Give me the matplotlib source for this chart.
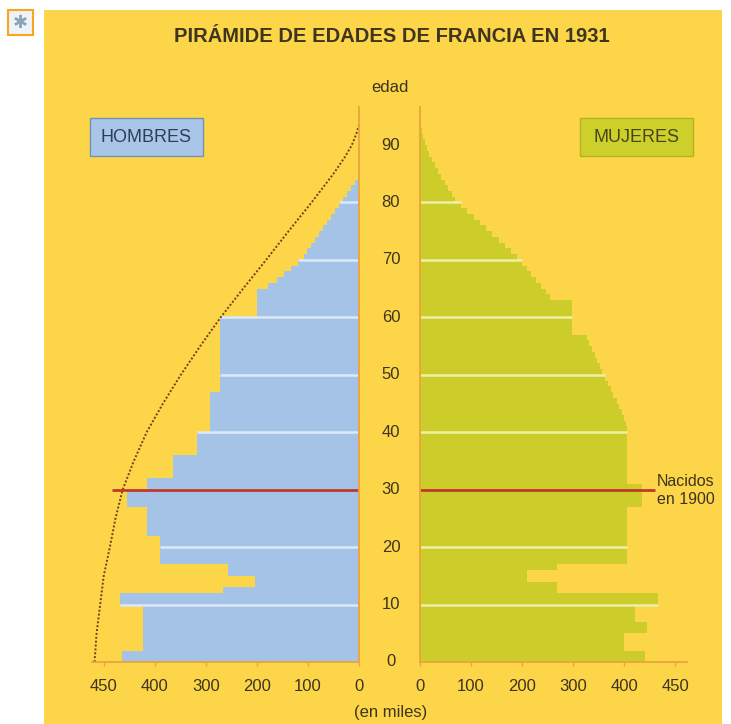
import numpy as np
import matplotlib
matplotlib.use("Agg")
import matplotlib.pyplot as plt
import matplotlib.transforms as mtransforms
from matplotlib.patches import Rectangle

plt.rcParams['font.family'] = ['Liberation Sans', 'DejaVu Sans']

# poblacion por edad (miles), un valor por año de edad
edades_h = np.arange(0, 85)
hombres = ([465, 465] + [424] * 8 + [469, 469] + [267] + [204, 204] + [257, 257]
           + [390] * 5 + [416] * 5 + [455] * 3 + [416] * 2 + [365] * 4 + [318] * 4
           + [292] * 7 + [272] * 13 + [200] * 5
           + [178, 161, 147, 133, 120, 108, 102, 94, 86, 78,
              71, 63, 55, 47, 39, 31, 24, 16, 8, 2])

edades_m = np.arange(0, 94)
mujeres = ([441, 441] + [400] * 3 + [445, 445] + [422] * 3 + [467, 467]
           + [269, 269] + [210, 210] + [269] + [406] * 10 + [435] * 4 + [406] * 10
           + [404, 400, 396, 390, 385, 379, 374, 368, 362, 357, 352, 347, 342, 337, 332, 327]
           + [298] * 6
           + [255, 246, 237, 227, 218, 209, 199, 190, 178, 166, 154, 142, 130, 118, 106,
              93, 81, 69, 62, 55, 48, 41, 35, 29, 24, 18, 13, 9, 6, 4, 2])

# curva punteada (hombres)
curva_edad = [0, 5, 10, 15, 20, 25, 30, 35, 40, 45, 50, 55, 60, 65, 70, 75, 80, 85,
              88, 90, 92, 93.5]
curva_val = [518, 514, 507, 500, 488, 477, 463, 441, 416, 384, 349, 311, 271, 227,
             182, 138, 93, 50, 27, 14, 5, 0]

x_ticks = [0, 100, 200, 300, 400, 500]
x_labels = ['0', '100', '200', '300', '400', '450']
edades_lbl = list(range(0, 100, 10))
separadores = [10, 20, 40, 50, 60, 70, 80]
edad_1900 = 30
linea_1900_h = 484
linea_1900_m = 461

YELLOW = '#fdd548'
BLUE = '#a4c3e6'
GREEN = '#cccd2a'
ORANGE = '#eba33c'
RED = '#c0392b'
TXT = '#3d3520'

W, H = 731, 724
fig = plt.figure(figsize=(W / 100, H / 100), dpi=100)
fig.patch.set_facecolor('white')


def fx(px):
    return px / W


def fy(py):
    return 1 - py / H


fig.patches.append(Rectangle((fx(44), 0), fx(722) - fx(44), fy(10), transform=fig.transFigure,
                             facecolor=YELLOW, edgecolor='none', zorder=-5))
fig.patches.append(Rectangle((fx(8), fy(35)), fx(25), 25 / H, transform=fig.transFigure,
                             facecolor='#eef3f7', edgecolor='#f6a623', lw=1.5, zorder=-4))
fig.text(fx(20.5), fy(23), '✱', ha='center', va='center', fontsize=13,
         color='#8aa3b8', family=['DejaVu Sans'])

bottom, top = 662, 107
axL = fig.add_axes([fx(92), fy(bottom), fx(267), (bottom - top) / H])
axR = fig.add_axes([fx(420), fy(bottom), fx(267), (bottom - top) / H])
ymax = (bottom - top) / 5.744

for ax in (axL, axR):
    ax.set_zorder(1)
    ax.set_facecolor('none')
    ax.set_ylim(0, ymax)
    ax.set_yticks([])
    ax.set_xticks(x_ticks)
    ax.set_xticklabels(x_labels)
    ax.tick_params(axis='x', length=3, width=1, color=ORANGE, pad=9,
                   labelsize=12, labelcolor=TXT)
    ax.spines['top'].set_visible(False)
    for s in ax.spines.values():
        s.set_color(ORANGE)
        s.set_linewidth(1.3)

axL.set_xlim(523, 0)
axR.set_xlim(0, 523)
axL.spines['left'].set_visible(False)
axR.spines['right'].set_visible(False)

axL.barh(edades_h, hombres, height=1, align='edge', color=BLUE, linewidth=0)
axR.barh(edades_m, mujeres, height=1, align='edge', color=GREEN, linewidth=0)

for a in separadores:
    axL.plot([0, max(hombres[a - 1], hombres[a])], [a, a], color='#dde9f7', lw=1.8,
             solid_capstyle='butt')
    axR.plot([0, max(mujeres[a - 1], mujeres[a])], [a, a], color='#eef0a6', lw=1.8,
             solid_capstyle='butt')

axL.plot(curva_val, curva_edad, color='#7a3b1e', lw=1.4, ls=(0, (1, 1)))

axL.plot([0, linea_1900_h], [edad_1900, edad_1900], color=RED, lw=2, solid_capstyle='butt')
axR.plot([0, linea_1900_m], [edad_1900, edad_1900], color=RED, lw=2, solid_capstyle='butt')

blend = mtransforms.blended_transform_factory(fig.transFigure, axL.transData)
for a in edades_lbl:
    fig.text(fx(391), a, str(a), transform=blend, ha='center', va='center',
             fontsize=12, color=TXT)

fig.text(fx(390), fy(88), 'edad', ha='center', va='center', fontsize=12, color=TXT)
fig.text(fx(391), fy(712), '(en miles)', ha='center', va='center', fontsize=12, color=TXT)
fig.text(fx(657), fy(490), 'Nacidos\nen 1900', ha='left', va='center', fontsize=11.5,
         color=TXT, linespacing=1.25)

fig.text(fx(392), fy(37), 'PIRÁMIDE DE EDADES DE FRANCIA EN 1931', ha='center', va='center',
         fontsize=14.5, weight='bold', color=TXT)

fig.patches.append(Rectangle((fx(90), fy(156)), fx(113), 38 / H, transform=fig.transFigure,
                             facecolor='#a9c6e8', edgecolor='#7391b0', lw=1, zorder=2))
fig.text(fx(146.5), fy(137), 'HOMBRES', ha='center', va='center', fontsize=13,
         color='#2d3e55', zorder=3)
fig.patches.append(Rectangle((fx(580), fy(156)), fx(113), 38 / H, transform=fig.transFigure,
                             facecolor='#cdd02a', edgecolor='#b3b322', lw=1, zorder=2))
fig.text(fx(636.5), fy(137), 'MUJERES', ha='center', va='center', fontsize=13,
         color='#47461a', zorder=3)

fig.savefig('out.png', dpi=100)
